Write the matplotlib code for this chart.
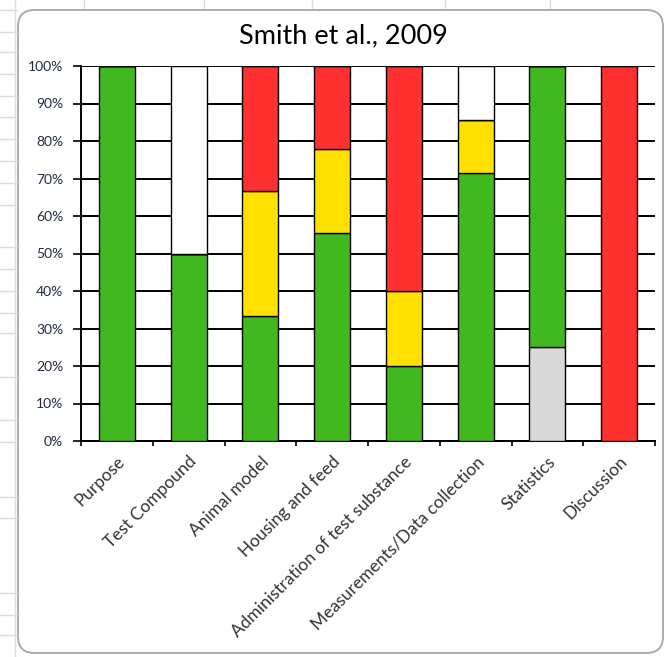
import numpy as np
import matplotlib.pyplot as plt
from matplotlib.patches import FancyBboxPatch
from matplotlib.lines import Line2D

# study criteria and the share of each rating (percent)
categories = ['Purpose', 'Test Compound', 'Animal model', 'Housing and feed',
              'Administration of test substance', 'Measurements/Data collection',
              'Statistics', 'Discussion']
grey_part = [0, 0, 0, 0, 0, 0, 25, 0]
green_part = [100, 50, 33.3, 55.6, 20, 71.4, 75, 0]
yellow_part = [0, 0, 33.3, 22.2, 20, 14.3, 0, 0]
red_part = [0, 0, 33.4, 22.2, 60, 0, 0, 100]
blank_part = [0, 50, 0, 0, 0, 14.3, 0, 0]

series = [(grey_part, '#D9D9D9'), (green_part, '#41B81F'),
          (yellow_part, '#FFE000'), (red_part, '#FF3030'), (blank_part, 'white')]

W, H = 665, 657
fig = plt.figure(figsize=(W / 100, H / 100), dpi=100)

# spreadsheet cells behind the chart object
cell = '#DCDCDC'
for x in [84, 204, 312, 445, 550]:
    fig.add_artist(Line2D([x / W, x / W], [1, 1 - 8 / H], color=cell, lw=1))
fig.add_artist(Line2D([15 / W, 15 / W], [0, 1], color=cell, lw=1))
for y in [10, 32, 52, 74, 96, 117, 139, 161, 183, 205, 247, 269, 291, 313,
          333, 377, 420, 442, 497, 518, 593, 615, 635]:
    fig.add_artist(Line2D([0, 17 / W], [1 - y / H, 1 - y / H], color=cell, lw=1))

# chart area with rounded border
frame = FancyBboxPatch((18 / W, 4 / H), 645 / W, 643 / H,
                       boxstyle='round,pad=0,rounding_size=0.025',
                       transform=fig.transFigure, facecolor='white',
                       edgecolor='#A6A6A6', lw=1.3, zorder=0)
fig.add_artist(frame)

ax = fig.add_axes([81 / W, 216 / H, 574 / W, 375 / H])
ax.set_facecolor('none')

x = np.arange(len(categories))
bottom = np.zeros(len(categories))
for vals, col in series:
    vals = np.array(vals, dtype=float)
    ax.bar(x, vals, bottom=bottom, width=0.5, color=col, edgecolor='black',
           linewidth=1, zorder=3)
    bottom += vals

ax.set_xlim(-0.5, len(categories) - 0.5)
ax.set_ylim(0, 100)
ax.set_yticks(np.arange(0, 101, 10))
ax.set_yticklabels([f'{v}%' for v in range(0, 101, 10)],
                   fontsize=10, color='#1F2A44', family='Lato')
ax.yaxis.grid(True, color='black', linewidth=1.4, zorder=0)
ax.set_axisbelow(True)

ax.set_xticks(np.arange(len(categories) + 1) - 0.5)
ax.set_xticklabels([])
ax.set_xticks(x, minor=True)
ax.set_xticklabels(categories, minor=True, rotation=45, ha='right',
                   rotation_mode='anchor', fontsize=12.5, color='#333333',
                   family='Lato')
ax.tick_params(axis='x', which='major', length=3.6, width=1.2, direction='out')
ax.tick_params(axis='x', which='minor', length=0, pad=9)
ax.tick_params(axis='y', length=5.8, width=1.2, direction='out', pad=7)

for side in ['top', 'right']:
    ax.spines[side].set_visible(False)
for side in ['left', 'bottom']:
    ax.spines[side].set_linewidth(1.4)

fig.text(343 / W, 1 - 36 / H, 'Smith et al., 2009', ha='center', va='center',
         fontsize=19.5, family='Lato', color='black')

fig.savefig('out.png', dpi=100)
